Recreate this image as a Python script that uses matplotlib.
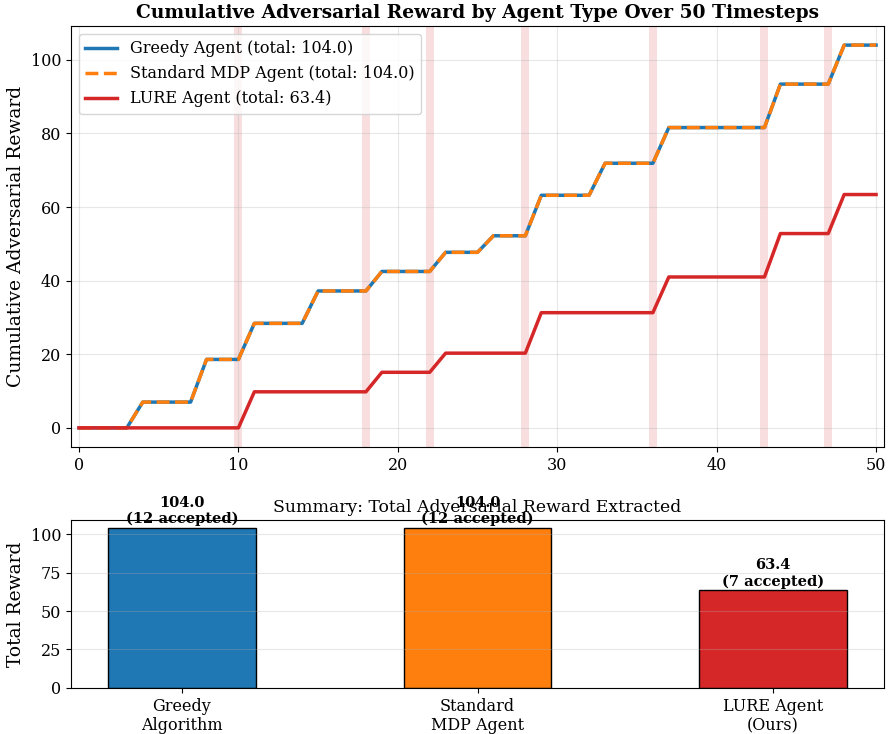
import numpy as np
import matplotlib.pyplot as plt

plt.rcParams["font.family"] = "DejaVu Serif"

# Per-timestep reward picked up by each agent (timesteps 0..50)
timesteps = np.arange(51)
accept_steps_greedy = [4, 8, 11, 15, 19, 23, 26, 29, 33, 37, 44, 48]
accept_rewards_greedy = [7.0, 11.6, 9.8, 8.8, 5.3, 5.2, 4.5, 11.0, 8.7, 9.7, 11.8, 10.6]
accept_steps_lure = [11, 19, 23, 29, 37, 44, 48]
accept_rewards_lure = [9.8, 5.3, 5.2, 11.0, 9.7, 11.8, 10.6]
# timesteps flagged as risky
flagged_steps = [10, 18, 22, 28, 36, 43, 47]

agents = ["Greedy\nAlgorithm", "Standard\nMDP Agent", "LURE Agent\n(Ours)"]
accepted_counts = [12, 12, 7]

greedy = np.zeros(len(timesteps))
greedy[accept_steps_greedy] = accept_rewards_greedy
mdp = greedy.copy()
lure = np.zeros(len(timesteps))
lure[accept_steps_lure] = accept_rewards_lure

cum_greedy = np.cumsum(greedy)
cum_mdp = np.cumsum(mdp)
cum_lure = np.cumsum(lure)
totals = [cum_greedy[-1], cum_mdp[-1], cum_lure[-1]]

fig = plt.figure(figsize=(8.89, 7.34), dpi=100)
ax1 = fig.add_axes([0.0799, 0.391, 0.9145, 0.5736])
ax2 = fig.add_axes([0.0799, 0.0627, 0.9145, 0.229])

# Cumulative reward curves
for t in flagged_steps:
    ax1.axvspan(t - 0.25, t + 0.25, color="tab:red", alpha=0.15, lw=0)
ax1.plot(timesteps, cum_greedy, color="#1f77b4", lw=2.5,
         label=f"Greedy Agent (total: {cum_greedy[-1]:.1f})")
ax1.plot(timesteps, cum_mdp, color="#ff7f0e", lw=2.5, ls="--",
         label=f"Standard MDP Agent (total: {cum_mdp[-1]:.1f})")
ax1.plot(timesteps, cum_lure, color="#d62728", lw=2.5,
         label=f"LURE Agent (total: {cum_lure[-1]:.1f})")
ax1.set_xlim(-0.5, 50.5)
ax1.set_ylabel("Cumulative Adversarial Reward", fontsize=13.5)
ax1.set_title("Cumulative Adversarial Reward by Agent Type Over 50 Timesteps",
              fontsize=13.4, fontweight="bold")
ax1.legend(loc="upper left", fontsize=11.5)
ax1.grid(True, alpha=0.3)
ax1.tick_params(labelsize=11.5)

# Summary bars
colors = ["#1f77b4", "#ff7f0e", "#d62728"]
x = np.arange(len(agents))
bars = ax2.bar(x, totals, width=0.5, color=colors, edgecolor="black")
for b, tot, n in zip(bars, totals, accepted_counts):
    ax2.text(b.get_x() + b.get_width() / 2, tot + 1, f"{tot:.1f}\n({n} accepted)",
             ha="center", va="bottom", fontsize=10.5, fontweight="bold")
ax2.set_xticks(x)
ax2.set_xticklabels(agents, fontsize=11.5)
ax2.set_ylabel("Total Reward", fontsize=13.5)
ax2.set_title("Summary: Total Adversarial Reward Extracted", fontsize=12.4)
ax2.grid(True, axis="y", alpha=0.3)
ax2.tick_params(labelsize=11.5)

fig.savefig("out.png", dpi=100)
